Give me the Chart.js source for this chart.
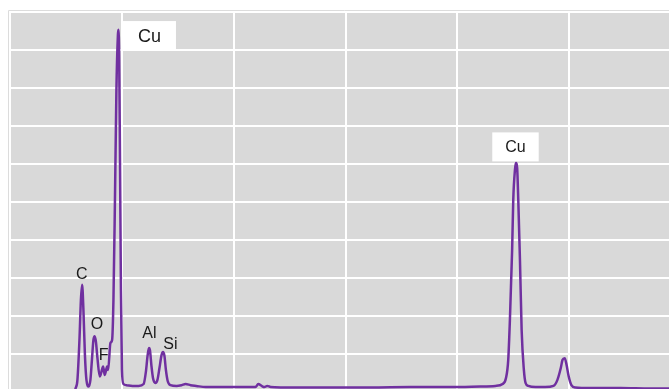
<!DOCTYPE html>
<html>
<head>
<meta charset="utf-8">
<script src="https://cdn.jsdelivr.net/npm/chart.js@4.4.1/dist/chart.umd.min.js"></script>
<style>
  html, body { margin: 0; padding: 0; background: #fff; overflow: hidden; }
  #wrap { width: 669px; height: 389px; overflow: hidden; position: relative; }
  #spectrum { position: absolute; left: 0; top: 0; }
</style>
</head>
<body>
<div id="wrap"><canvas id="spectrum" width="690" height="400"></canvas></div>
<script>
// energy (keV) and counts
const energy = [
  0.16, 0.17, 0.206, 0.242, 0.268, 0.29, 0.313, 0.34, 0.367, 0.408,
  0.438, 0.465, 0.492, 0.515, 0.537, 0.564, 0.605, 0.635, 0.665, 0.694,
  0.737, 0.755, 0.796, 0.826, 0.85, 0.877, 0.903, 0.93, 0.939, 0.953,
  0.966, 0.984, 1.002, 1.029, 1.08, 1.19, 1.30, 1.39, 1.43, 1.46, 1.485,
  1.503, 1.53, 1.557, 1.60, 1.637, 1.673, 1.71, 1.736, 1.762, 1.788, 1.82,
  1.869, 1.98, 2.07, 2.14, 2.23, 2.33, 2.50, 2.67, 2.94, 3.21, 3.39, 3.44,
  3.50, 3.55, 3.60, 3.66, 3.84, 4.20, 4.73, 5.45, 6.16, 6.88, 7.41, 7.68,
  7.81, 7.87, 7.91, 7.94, 7.98, 8.0, 8.03, 8.05, 8.07, 8.09, 8.12, 8.15,
  8.19, 8.22, 8.27, 8.40, 8.57, 8.72, 8.79, 8.85, 8.88, 8.92, 8.95, 8.99,
  9.04, 9.11, 9.38, 9.92, 10.45, 10.8, 11.0
];
const counts = [
  0, 80, 320, 1370, 2420, 2820, 2160, 970, 320, 145,
  320, 840, 1370, 1470, 1320, 890, 410, 530, 670, 450,
  670, 580, 1290, 1370, 2420, 5050, 7950, 9400, 9530, 8740,
  6370, 2680, 580, 210, 180, 160, 160, 210, 530, 950, 1160,
  1100, 680, 370, 240, 320, 630, 970, 1050, 950, 580, 290,
  180, 160, 180, 210, 180, 160, 130, 130, 130, 130, 130, 210,
  160, 130, 160, 130, 120, 120, 120, 120, 130, 130, 145, 160,
  210, 370, 840, 1890, 3740, 5050, 5840, 6030, 5890, 5050, 3470, 1630,
  580, 240, 160, 130, 130, 160, 320, 630, 840, 890, 740, 420,
  180, 120, 105, 105, 90, 90, 90
];

// peak labels: element, energy and count level where the label sits
const labelText   = ['C', 'O', 'F', 'Al', 'Si', 'Cu', 'Cu'];
const labelEnergy = [0.285, 0.557, 0.675, 1.494, 1.869, 1.494, 8.04];
const labelCounts = [3105, 1790, 990, 1553, 1263, 9380, 6450];
const labelBoxed  = [false, false, false, false, false, true, true];
const labelSize   = [16, 16, 16, 16, 16, 18, 16];

const xGrid = [-1, 1, 3, 5, 7, 9, 11];

const plotBackground = {
  id: 'plotBackground',
  beforeDraw(chart) {
    const a = chart.chartArea;
    const ctx = chart.ctx;
    ctx.save();
    ctx.fillStyle = '#d9d9d9';
    ctx.fillRect(a.left, a.top, a.right - a.left, a.bottom - a.top);
    // faint outer frame line
    ctx.strokeStyle = '#dcdcdc';
    ctx.lineWidth = 1;
    ctx.beginPath();
    ctx.moveTo(a.left - 1.5, a.bottom);
    ctx.lineTo(a.left - 1.5, a.top - 1.5);
    ctx.lineTo(a.right, a.top - 1.5);
    ctx.stroke();
    ctx.restore();
  }
};

const peakLabels = {
  id: 'peakLabels',
  afterDatasetsDraw(chart) {
    const ctx = chart.ctx;
    const xs = chart.scales.x, ys = chart.scales.y;
    ctx.save();
    ctx.textAlign = 'center';
    ctx.textBaseline = 'middle';
    labelText.forEach((t, i) => {
      const px = xs.getPixelForValue(labelEnergy[i]);
      const py = ys.getPixelForValue(labelCounts[i]);
      ctx.font = labelSize[i] + 'px "Liberation Sans", Arial, sans-serif';
      if (labelBoxed[i]) {
        const w = ctx.measureText(t).width + 2 * labelSize[i] - 6;
        const h = 29;
        ctx.fillStyle = '#ffffff';
        ctx.fillRect(px - w / 2, py - h / 2, w, h);
      }
      ctx.fillStyle = '#1a1a1a';
      ctx.fillText(t, px, py + 1);
    });
    ctx.restore();
  }
};

new Chart(document.getElementById('spectrum').getContext('2d'), {
  type: 'scatter',
  data: {
    datasets: [{
      label: 'Spectrum',
      data: energy.map((e, i) => ({ x: e, y: counts[i] })),
      showLine: true,
      borderColor: '#7030a0',
      borderWidth: 2.5,
      pointRadius: 0,
      cubicInterpolationMode: 'monotone',
      fill: false
    }]
  },
  options: {
    responsive: false,
    animation: false,
    devicePixelRatio: 1,
    layout: { padding: { left: 10, top: 12, right: 9, bottom: 8 } },
    plugins: {
      legend: { display: false },
      tooltip: { enabled: false }
    },
    scales: {
      x: {
        type: 'linear',
        min: -1,
        max: 11,
        afterBuildTicks: scale => { scale.ticks = xGrid.map(v => ({ value: v })); },
        ticks: { display: false },
        grid: { color: '#ffffff', lineWidth: 2, drawTicks: false },
        border: { display: false }
      },
      y: {
        min: 0,
        max: 10000,
        ticks: { display: false, stepSize: 1000 },
        grid: { color: '#ffffff', lineWidth: 2, drawTicks: false },
        border: { display: false }
      }
    }
  },
  plugins: [plotBackground, peakLabels]
});
</script>
</body>
</html>
